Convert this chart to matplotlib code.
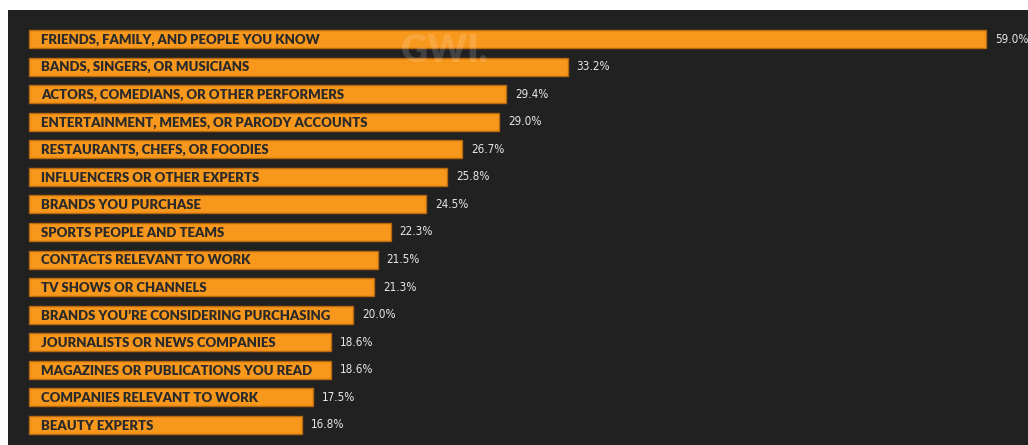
import matplotlib.pyplot as plt
import numpy as np

# Datos
categorias = [
    "FRIENDS, FAMILY, AND PEOPLE YOU KNOW",
    "BANDS, SINGERS, OR MUSICIANS",
    "ACTORS, COMEDIANS, OR OTHER PERFORMERS",
    "ENTERTAINMENT, MEMES, OR PARODY ACCOUNTS",
    "RESTAURANTS, CHEFS, OR FOODIES",
    "INFLUENCERS OR OTHER EXPERTS",
    "BRANDS YOU PURCHASE",
    "SPORTS PEOPLE AND TEAMS",
    "CONTACTS RELEVANT TO WORK",
    "TV SHOWS OR CHANNELS",
    "BRANDS YOU\u2019RE CONSIDERING PURCHASING",
    "JOURNALISTS OR NEWS COMPANIES",
    "MAGAZINES OR PUBLICATIONS YOU READ",
    "COMPANIES RELEVANT TO WORK",
    "BEAUTY EXPERTS",
]
valores = [59.0, 33.2, 29.4, 29.0, 26.7, 25.8, 24.5, 22.3, 21.5, 21.3, 20.0, 18.6, 18.6, 17.5, 16.8]

fondo = "#212121"
naranja = "#f7971c"

fig = plt.figure(figsize=(10.28, 4.45), dpi=100)
fig.patch.set_facecolor("white")
ax = fig.add_axes([8 / 1028, 0, 1020 / 1028, 435 / 445])
ax.set_facecolor(fondo)

y = np.arange(len(valores))
ax.barh(y, valores, height=0.65, color=naranja, edgecolor="#b8690f", linewidth=1.0)

for yi, cat, v in zip(y, categorias, valores):
    ax.text(0.75, yi + 0.03, cat, va="center", ha="left", fontsize=9.5,
            fontweight="heavy", color="#2a2a2a", family=["Lato", "DejaVu Sans"])
    ax.text(v + 0.55, yi, f"{v:.1f}%", va="center", ha="left", fontsize=8.4,
            color="#e6e6e6", family=["DejaVu Sans"], fontstretch="condensed")

# Marca de agua
ax.text(25.65, 0.45, "GWI.", va="center", ha="center", fontsize=27, fontweight="heavy",
        color="white", alpha=0.15, family=["Lato", "DejaVu Sans"])

ax.set_xlim(-1.295, 61.59)
ax.set_ylim(14.726, -1.052)
for s in ax.spines.values():
    s.set_visible(False)
ax.set_xticks([])
ax.set_yticks([])

plt.savefig("out.png", dpi=100, facecolor=fig.get_facecolor())
